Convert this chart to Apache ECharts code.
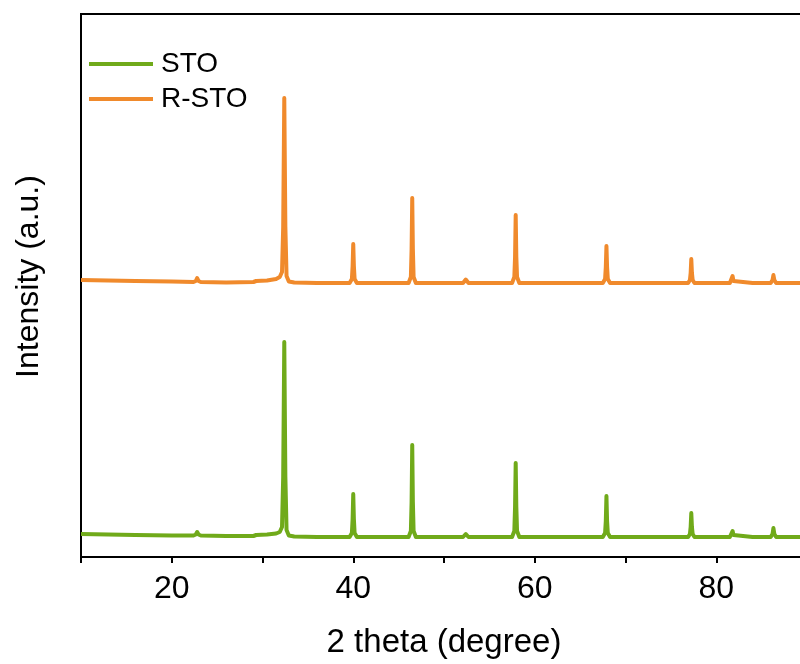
<!DOCTYPE html>
<html>
<head>
<meta charset="utf-8">
<script src="https://cdn.jsdelivr.net/npm/echarts@6/dist/echarts.min.js"></script>
<style>html,body{margin:0;padding:0;background:#fff}#c{width:800px;height:664px}</style>
</head>
<body>
<div id="c"></div>
<script>
// X-ray diffraction patterns (2θ in degrees, intensity in a.u.)
const seriesNames = ['STO', 'R-STO'];
const xTicks = [20, 40, 60, 80];

const stoData = [
  [10, 23], [13, 22.5], [16, 22], [20, 21.5], [22.4, 21.5],
  [22.65, 22.5], [22.8, 25], [22.95, 22.5], [23.2, 21.5],
  [26, 21], [29.0, 21], [29.3, 22], [30.5, 22.5], [31.5, 23.5], [31.9, 25],
  [32.15, 30], [32.28, 80], [32.4, 215], [32.52, 80], [32.65, 27], [32.9, 21.5], [33.5, 20.5],
  [36, 20], [39.6, 20], [39.85, 24], [39.93, 38], [40.0, 63], [40.07, 38], [40.15, 24], [40.4, 20],
  [44, 20], [46.1, 20], [46.35, 26], [46.43, 55], [46.5, 112], [46.57, 55], [46.65, 26], [46.9, 20],
  [50, 20], [52.1, 20], [52.3, 21.5], [52.4, 23], [52.5, 21.5], [52.7, 20],
  [55, 20], [57.5, 20], [57.75, 26], [57.83, 50], [57.9, 94], [57.97, 50], [58.05, 26], [58.3, 20],
  [62, 20], [67.5, 20], [67.75, 24], [67.83, 36], [67.9, 61], [67.97, 36], [68.05, 24], [68.3, 20],
  [70, 20], [72.3, 20], [72.5, 21], [72.7, 20],
  [75, 20], [76.9, 20], [77.1, 23], [77.18, 30], [77.25, 44], [77.32, 30], [77.4, 23], [77.6, 20],
  [79, 20], [81.5, 20], [81.7, 22], [81.8, 26], [81.9, 22], [82.1, 20],
  [84, 20], [86.0, 20], [86.2, 23], [86.3, 29], [86.4, 23], [86.6, 20],
  [88, 20], [90, 20]
];

const rstoData = [
  [10, 277], [13, 276.5], [16, 276], [20, 275.5], [22.4, 275],
  [22.65, 276], [22.8, 279], [22.95, 276], [23.2, 275],
  [26, 274.5], [29.0, 275], [29.3, 276], [30.5, 276.5], [31.5, 278], [31.9, 280],
  [32.15, 285], [32.28, 330], [32.4, 459], [32.52, 330], [32.65, 281], [32.9, 275.5], [33.5, 274.5],
  [36, 274], [39.6, 274], [39.85, 278], [39.93, 291], [40.0, 313], [40.07, 291], [40.15, 278], [40.4, 274],
  [44, 274], [46.1, 274], [46.35, 280], [46.43, 308], [46.5, 359], [46.57, 308], [46.65, 280], [46.9, 274],
  [50, 274], [52.1, 274], [52.3, 275.5], [52.4, 277.5], [52.5, 275.5], [52.7, 274],
  [55, 274], [57.5, 274], [57.75, 280], [57.83, 300], [57.9, 342], [57.97, 300], [58.05, 280], [58.3, 274],
  [62, 274], [67.5, 274], [67.75, 278], [67.83, 290], [67.9, 311], [67.97, 290], [68.05, 278], [68.3, 274],
  [70, 274], [72.3, 274], [72.5, 276], [72.7, 274],
  [75, 274], [76.9, 274], [77.1, 277], [77.18, 284], [77.25, 298], [77.32, 284], [77.4, 277], [77.6, 274],
  [79, 274], [81.5, 274], [81.7, 276], [81.8, 281], [81.9, 276], [82.1, 274],
  [84, 274], [86.0, 274], [86.2, 277], [86.3, 282], [86.4, 277], [86.6, 274],
  [88, 274], [90, 274]
];

const colors = { STO: '#70AA1A', 'R-STO': '#F08A2C' };
const FONT = 'Liberation Sans, Arial, sans-serif';

const chart = echarts.init(document.getElementById('c'), null, { renderer: 'canvas' });
chart.setOption({
  animation: false,
  backgroundColor: '#fff',
  grid: { left: 81, top: 14, width: 726, height: 543, containLabel: false, outerBoundsMode: 'none',
    show: true, borderColor: '#000', borderWidth: 2, backgroundColor: 'transparent' },
  legend: {
    data: seriesNames,
    orient: 'vertical',
    left: 89,
    top: 50,
    padding: 0,
    itemWidth: 64,
    itemHeight: 4,
    itemGap: 7,
    icon: 'rect',
    textStyle: { fontSize: 28, color: '#000', fontFamily: FONT, lineHeight: 28, padding: [0, 0, 0, 3] }
  },
  xAxis: {
    type: 'value',
    min: 10, max: 90, interval: 10,
    name: '2 theta (degree)',
    nameLocation: 'middle',
    nameGap: 69,
    nameTextStyle: { fontSize: 33, color: '#000', fontFamily: FONT },
    axisLine: { show: true, lineStyle: { color: '#000', width: 2 } },
    axisTick: { show: true, inside: false, length: 6, lineStyle: { color: '#000', width: 2 } },
    axisLabel: {
      fontSize: 32, color: '#000', fontFamily: FONT, margin: 16,
      formatter: v => (xTicks.indexOf(v) >= 0 ? String(v) : '')
    },
    splitLine: { show: false }
  },
  yAxis: {
    type: 'value',
    min: 0, max: 543,
    name: 'Intensity (a.u.)',
    nameLocation: 'middle',
    nameRotate: 90,
    nameGap: 36,
    nameTextStyle: { fontSize: 32, color: '#000', fontFamily: FONT, padding: [0, 0, 0, 18] },
    axisLine: { show: true, lineStyle: { color: '#000', width: 2 } },
    axisTick: { show: false },
    axisLabel: { show: false },
    splitLine: { show: false }
  },
  series: [
    { name: 'STO', type: 'line', data: stoData, showSymbol: false, symbol: 'none', color: colors.STO,
      lineStyle: { width: 4, color: colors.STO, join: 'round' } },
    { name: 'R-STO', type: 'line', data: rstoData, showSymbol: false, symbol: 'none', color: colors['R-STO'],
      lineStyle: { width: 4, color: colors['R-STO'], join: 'round' } }
  ]
});
</script>
</body>
</html>
